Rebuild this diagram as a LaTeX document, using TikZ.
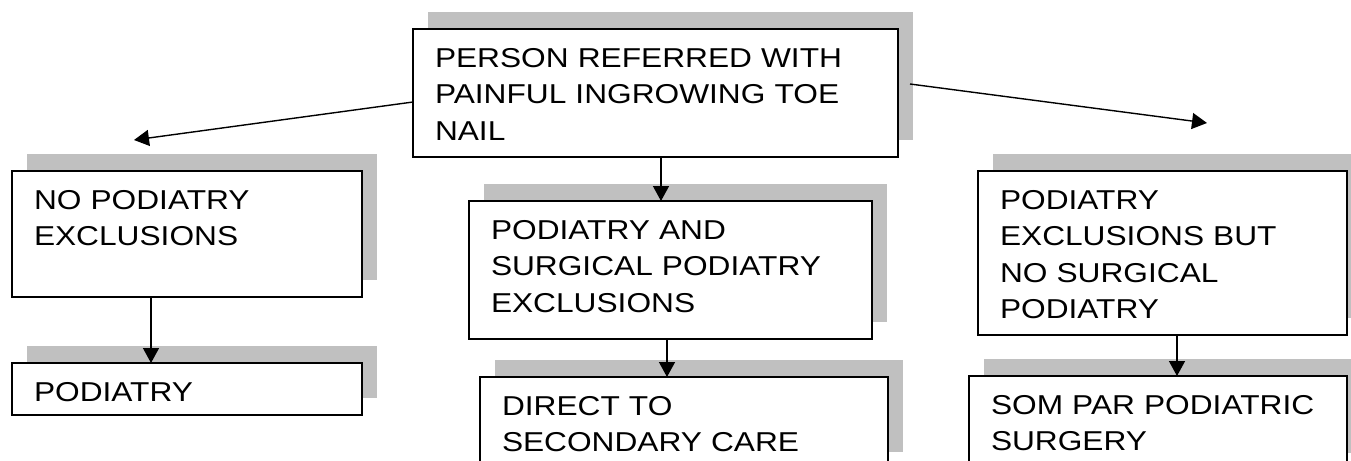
\documentclass[tikz,border=0pt]{standalone}
\usepackage{fontspec}
\setmainfont{Liberation Sans}[FakeStretch=1.16]
\usetikzlibrary{arrows.meta,shadows,calc}

\definecolor{shadegray}{RGB}{192,192,192}

\tikzset{
  flowbox/.style={draw, line width=0.8pt, fill=white, anchor=north west, outer sep=0pt,
    inner xsep=11pt, inner ysep=0pt, align=left, text height=19pt,
    font=\fontsize{13.65pt}{18.25pt}\selectfont,
    drop shadow={shadow xshift=7.5pt, shadow yshift=8.5pt, fill=shadegray, opacity=1}},
  flow/.style={-{Triangle[length=7.5pt,width=8pt]}, line width=0.7pt}
}

\begin{document}
\begin{tikzpicture}[x=0.5pt, y=-0.5pt]
\useasboundingbox (0,0) rectangle (1351,461);
\clip (0,0) rectangle (1351,461);

\node[flowbox, text width=220.5pt, text depth=45pt] (ref) at (413,29) {PERSON REFERRED WITH\\PAINFUL INGROWING TOE\\NAIL};

\node[flowbox, text width=153pt, text depth=44pt] (noex) at (12,171) {NO PODIATRY\\EXCLUSIONS};
\node[flowbox, text width=153pt, text depth=7pt] (pod) at (12,363) {PODIATRY};

\node[flowbox, text width=179.5pt, text depth=50pt] (both) at (469,201) {PODIATRY AND\\SURGICAL PODIATRY\\EXCLUSIONS};
\node[flowbox, text width=182pt, text depth=27pt] (direct) at (480,377) {DIRECT TO\\SECONDARY CARE};

\node[flowbox, text width=162.5pt, text depth=63pt] (partex) at (978,171) {PODIATRY\\EXCLUSIONS BUT\\NO SURGICAL\\PODIATRY};
\node[flowbox, text width=167pt, text depth=28pt] (sompar) at (969,376) {SOM PAR PODIATRIC\\SURGERY};

% free ends of the two side arrows
\coordinate (lefttip) at (134,140);
\coordinate (righttip) at (1207,123);

\draw[flow] ($(ref.north west)+(0,73)$) -- (lefttip);
\draw[flow] ($(ref.north east)+(12,55)$) -- (righttip);
\draw[flow] ([xshift=2.75pt]ref.south) -- ([xshift=-4.75pt]both.north);
\draw[flow] ([xshift=-18pt]noex.south) -- ([xshift=-18pt]pod.north);
\draw[flow] ([xshift=-1.75pt]both.south) -- ([xshift=-8.5pt]direct.north);
\draw[flow] ([xshift=7.25pt]partex.south) -- ([xshift=9.5pt]sompar.north);
\end{tikzpicture}
\end{document}
